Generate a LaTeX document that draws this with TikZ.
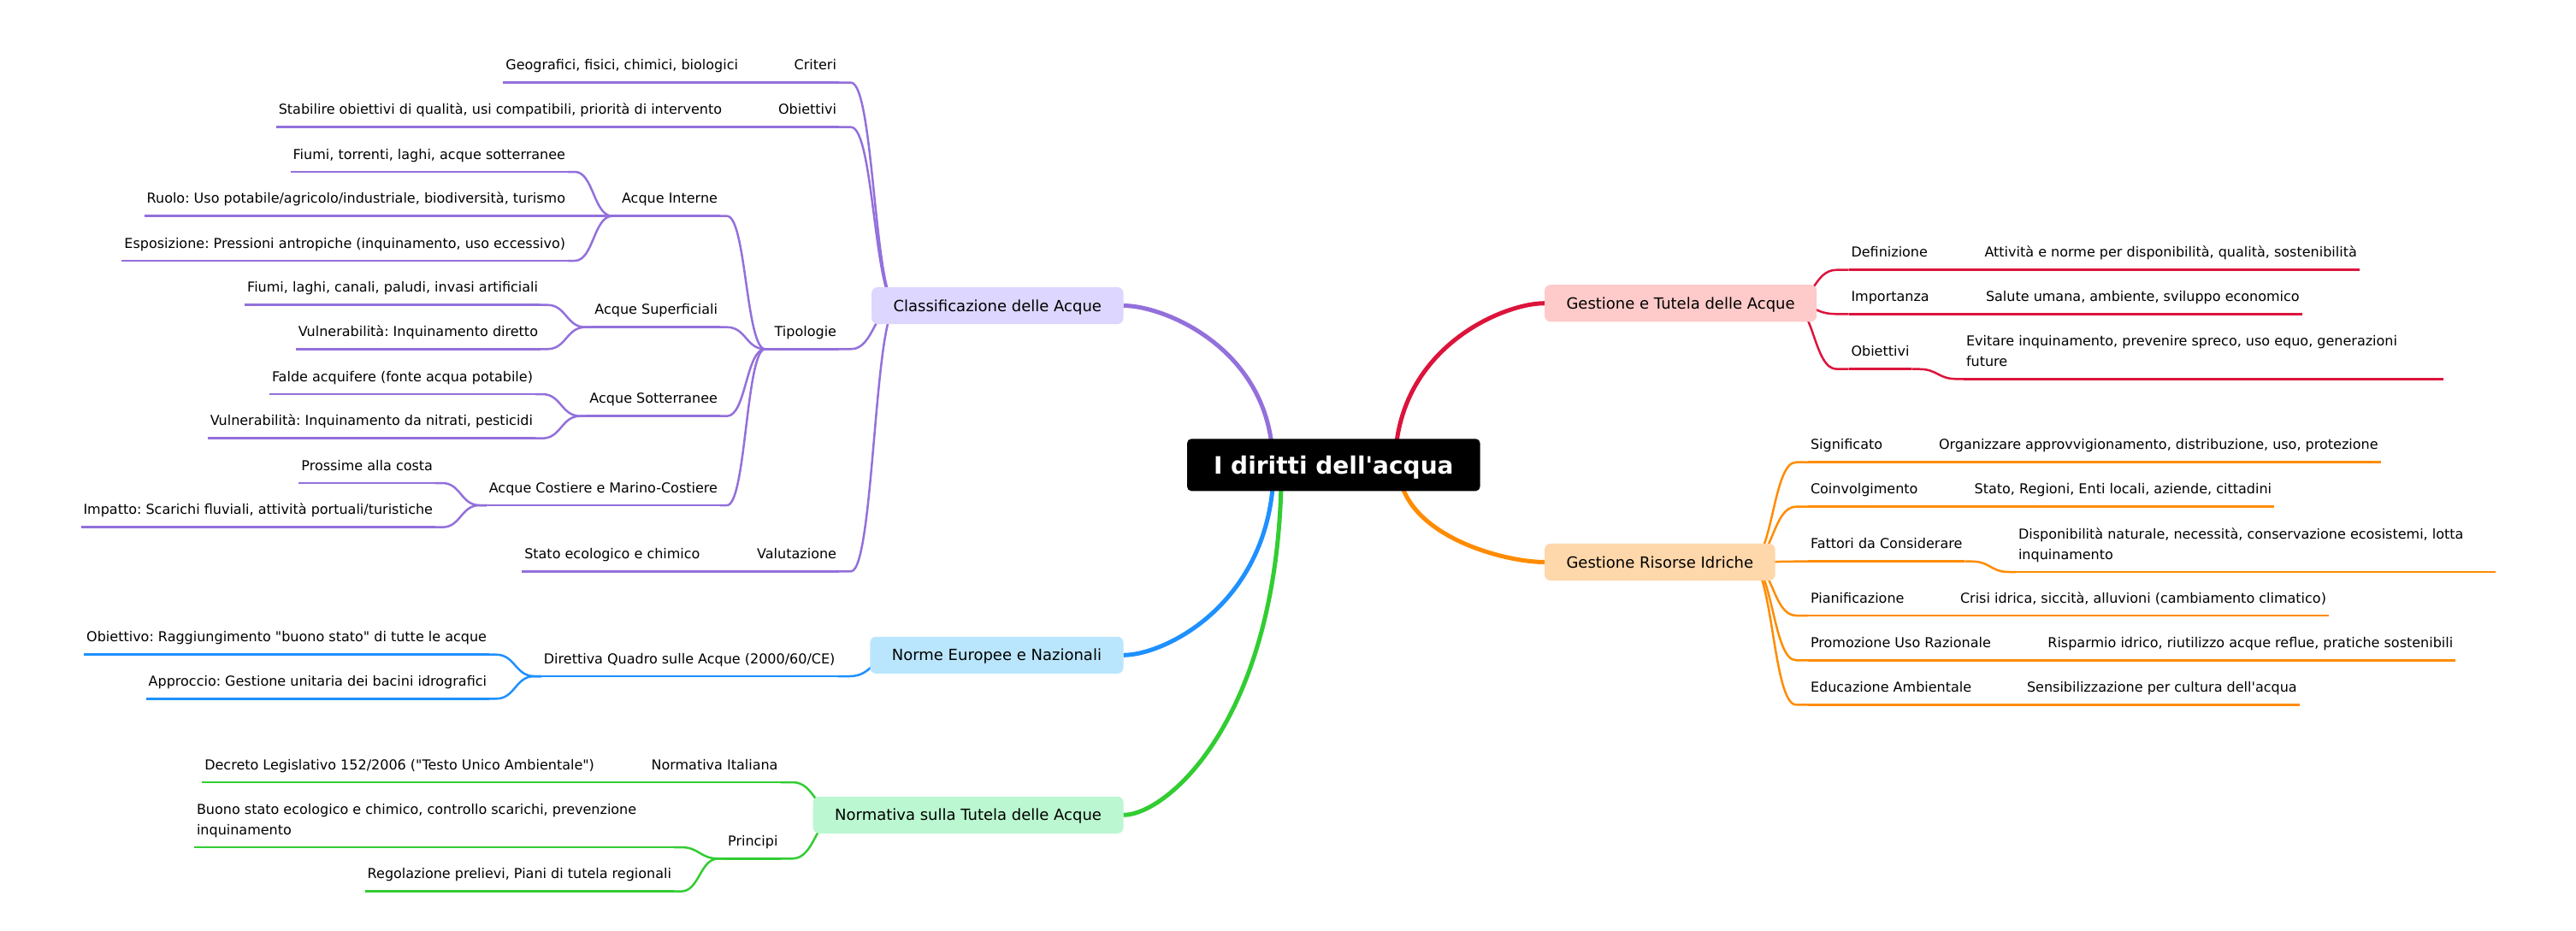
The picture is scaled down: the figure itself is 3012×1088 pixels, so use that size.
\documentclass[tikz,border=0pt]{standalone}
\usepackage{fontspec}
\newfontfamily\dv{DejaVu Sans}
\frenchspacing
\usetikzlibrary{calc}
\pgfdeclarelayer{bg}
\pgfsetlayers{bg,main}
\definecolor{cPur}{HTML}{9370DB}
\definecolor{cRed}{HTML}{DC143C}
\definecolor{cOra}{HTML}{FF8C00}
\definecolor{cBlu}{HTML}{1E90FF}
\definecolor{cGre}{HTML}{32CD32}
\definecolor{fPur}{HTML}{DDD6FE}
\definecolor{fRed}{HTML}{FECACA}
\definecolor{fOra}{HTML}{FED7AA}
\definecolor{fBlu}{HTML}{BAE6FD}
\definecolor{fGre}{HTML}{BBF7D0}
% root -> box: leaves the root vertically at x offset #2, arrives horizontally at the box
\newcommand\rtlink[3]{\draw[rlnk,#1] let \p1=($(root.center)+(#2pt,0pt)$), \p2=(#3) in (\p1) .. controls (\x1,{\y1+0.72*(\y2-\y1)}) and ({\x1+0.72*(\x2-\x1)},\y2) .. (\p2);}
% box (left side) -> child
\newcommand\bxL[3]{\draw[lnk,#1] let \p1=($(#2.west)+(30pt,0pt)$), \p2=([xshift=14pt]#3.south east) in (\p1) .. controls ({(\x1+\x2)/2},\y1) and ({(\x1+\x2)/2},\y2) .. (\p2) -- (#3.south east);}
% box (right side) -> child
\newcommand\bxR[3]{\draw[lnk,#1] let \p1=($(#2.east)+(-30pt,0pt)$), \p2=([xshift=-14pt]#3.south west) in (\p1) .. controls ({(\x1+\x2)/2},\y1) and ({(\x1+\x2)/2},\y2) .. (\p2) -- (#3.south west);}
% node -> child, left side
\newcommand\lkL[3]{\draw[lnk,#1] let \p1=([xshift=-8pt]#2.south west), \p2=([xshift=8pt]#3.south east) in (#2.south west) -- (\p1) .. controls ({(\x1+\x2)/2},\y1) and ({(\x1+\x2)/2},\y2) .. (\p2) -- (#3.south east);}
% node -> child, right side
\newcommand\lkR[3]{\draw[lnk,#1] let \p1=([xshift=8pt]#2.south east), \p2=([xshift=-8pt]#3.south west) in (#2.south east) -- (\p1) .. controls ({(\x1+\x2)/2},\y1) and ({(\x1+\x2)/2},\y2) .. (\p2) -- (#3.south west);}
% underline
\newcommand\ul[2]{\draw[lnk,#1] (#2.south west) -- (#2.south east);}
\newcommand\wraptext[2]{\parbox[b]{555pt}{\raggedright #1\\#2}}
\tikzset{
  lnk/.style={line width=2.5pt},
  rlnk/.style={line width=5pt},
  tx/.style={font=\dv\frenchspacing\fontsize{16}{23.5}\selectfont, inner xsep=3pt, inner ysep=15pt, outer sep=0pt, text depth=0pt, text=black},
  tl/.style={tx, anchor=south east},
  tr/.style={tx, anchor=south west},
  box/.style={font=\dv\fontsize{18}{22}\selectfont, rounded corners=7pt, inner xsep=25.5pt, inner ysep=15pt, text height=13.1pt, text depth=0pt, outer sep=0pt, text=black},
  rootbox/.style={fill=black, text=white, font=\dv\bfseries\fontsize{28}{34}\selectfont, rounded corners=5pt, inner xsep=31pt, inner ysep=20.3pt, text height=20.4pt, text depth=0pt, outer sep=0pt},
}
\begin{document}
\begin{tikzpicture}[x=1pt,y=-1pt]
\useasboundingbox (0,0) rectangle (3012,1088);
% root and first level
\node[rootbox] (root) at (1559.3,543.8) {I diritti dell'acqua};
\node[box, fill=fPur, anchor=east] (cls) at (1313.5,357.5) {Classificazione delle Acque};
\node[box, fill=fBlu, anchor=east] (nor) at (1313.5,766.3) {Norme Europee e Nazionali};
\node[box, fill=fGre, anchor=east] (ntu) at (1313.5,953.3) {Normativa sulla Tutela delle Acque};
\node[box, fill=fRed, anchor=west] (get) at (1806,354.7) {Gestione e Tutela delle Acque};
\node[box, fill=fOra, anchor=west] (gri) at (1806,657.5) {Gestione Risorse Idriche};
% Classificazione
\node[tl] (crit) at (981,96.7) {Criteri};
\node[tl] (obj) at (981,148.7) {Obiettivi};
\node[tl] (tip) at (981,408.3) {Tipologie};
\node[tl] (val) at (981,668.3) {Valutazione};
\node[tl] (geo) at (866,96.7) {Geografici, fisici, chimici, biologici};
\node[tl] (stab) at (847,148.7) {Stabilire obiettivi di qualità, usi compatibili, priorità di intervento};
\node[tl] (ai) at (842,252.7) {Acque Interne};
\node[tl] (asup) at (842,382.7) {Acque Superficiali};
\node[tl] (asot) at (842,486.7) {Acque Sotterranee};
\node[tl] (acos) at (842,591) {Acque Costiere e Marino-Costiere};
\node[tl] (stato) at (821.5,668.3) {Stato ecologico e chimico};
\node[tl] (ai1) at (664,201) {Fiumi, torrenti, laghi, acque sotterranee};
\node[tl] (ai2) at (664,252.7) {Ruolo: Uso potabile/agricolo/industriale, biodiversità, turismo};
\node[tl] (ai3) at (664,305) {Esposizione: Pressioni antropiche (inquinamento, uso eccessivo)};
\node[tl] (as1) at (632,356.7) {Fiumi, laghi, canali, paludi, invasi artificiali};
\node[tl] (as2) at (632,408.3) {Vulnerabilità: Inquinamento diretto};
\node[tl] (at1) at (626,461) {Falde acquifere (fonte acqua potabile)};
\node[tl] (at2) at (626,512.7) {Vulnerabilità: Inquinamento da nitrati, pesticidi};
\node[tl] (ac1) at (509,565) {Prossime alla costa};
\node[tl] (ac2) at (509,616.7) {Impatto: Scarichi fluviali, attività portuali/turistiche};
% Norme
\node[tl] (dir) at (979.5,791) {Direttiva Quadro sulle Acque (2000/60/CE)};
\node[tl] (dir1) at (572,765.7) {Obiettivo: Raggiungimento "buono stato" di tutte le acque};
\node[tl] (dir2) at (572,817.3) {Approccio: Gestione unitaria dei bacini idrografici};
% Normativa
\node[tl] (nit) at (912.5,915) {Normativa Italiana};
\node[tl] (dec) at (698,915) {Decreto Legislativo 152/2006 ("Testo Unico Ambientale")};
\node[tl] (prin) at (912.5,1004.3) {Principi};
\node[tl] (pr1) at (788,991) {\wraptext{Buono stato ecologico e chimico, controllo scarichi, prevenzione}{inquinamento}};
\node[tl] (pr2) at (788,1042.7) {Regolazione prelievi, Piani di tutela regionali};
% Gestione e Tutela
\node[tr] (def) at (2161.5,315.7) {Definizione};
\node[tr] (imp) at (2161.5,367.3) {Importanza};
\node[tr] (obt) at (2161.5,431.7) {Obiettivi};
\node[tr] (def1) at (2317.5,315.7) {Attività e norme per disponibilità, qualità, sostenibilità};
\node[tr] (imp1) at (2319,367.3) {Salute umana, ambiente, sviluppo economico};
\node[tr] (obt1) at (2296,443.3) {\wraptext{Evitare inquinamento, prevenire spreco, uso equo, generazioni}{future}};
% Gestione Risorse Idriche
\node[tr] (sig) at (2114,540.7) {Significato};
\node[tr] (sig1) at (2264,540.7) {Organizzare approvvigionamento, distribuzione, uso, protezione};
\node[tr] (coi) at (2114,592.7) {Coinvolgimento};
\node[tr] (coi1) at (2305.6,592.7) {Stato, Regioni, Enti locali, aziende, cittadini};
\node[tr] (fat) at (2114,656.7) {Fattori da Considerare};
\node[tr] (fat1) at (2357,669) {\wraptext{Disponibilità naturale, necessità, conservazione ecosistemi, lotta}{inquinamento}};
\node[tr] (pia) at (2114,720) {Pianificazione};
\node[tr] (pia1) at (2289,720) {Crisi idrica, siccità, alluvioni (cambiamento climatico)};
\node[tr] (pro) at (2114,772.3) {Promozione Uso Razionale};
\node[tr] (pro1) at (2391.4,772.3) {Risparmio idrico, riutilizzo acque reflue, pratiche sostenibili};
\node[tr] (edu) at (2114,824.3) {Educazione Ambientale};
\node[tr] (edu1) at (2367,824.3) {Sensibilizzazione per cultura dell'acqua};
\begin{pgfonlayer}{bg}
\fill[white] (0,0) rectangle (3012,1088);
% root links
\rtlink{cPur}{-71}{cls.east}
\rtlink{cBlu}{-70}{nor.east}
\rtlink{cGre}{-61}{ntu.east}
\rtlink{cRed}{72}{get.west}
\rtlink{cOra}{76}{gri.west}
% box links
\bxL{cPur}{cls}{crit}\bxL{cPur}{cls}{obj}\bxL{cPur}{cls}{tip}\bxL{cPur}{cls}{val}
\bxL{cBlu}{nor}{dir}
\bxL{cGre}{ntu}{nit}\bxL{cGre}{ntu}{prin}
\bxR{cRed}{get}{def}\bxR{cRed}{get}{imp}\bxR{cRed}{get}{obt}
\bxR{cOra}{gri}{sig}\bxR{cOra}{gri}{coi}\bxR{cOra}{gri}{fat}\bxR{cOra}{gri}{pia}\bxR{cOra}{gri}{pro}\bxR{cOra}{gri}{edu}
% deeper links
\lkL{cPur}{crit}{geo}\lkL{cPur}{obj}{stab}
\lkL{cPur}{tip}{ai}\lkL{cPur}{tip}{asup}\lkL{cPur}{tip}{asot}\lkL{cPur}{tip}{acos}
\lkL{cPur}{val}{stato}
\lkL{cPur}{ai}{ai1}\lkL{cPur}{ai}{ai2}\lkL{cPur}{ai}{ai3}
\lkL{cPur}{asup}{as1}\lkL{cPur}{asup}{as2}
\lkL{cPur}{asot}{at1}\lkL{cPur}{asot}{at2}
\lkL{cPur}{acos}{ac1}\lkL{cPur}{acos}{ac2}
\lkL{cBlu}{dir}{dir1}\lkL{cBlu}{dir}{dir2}
\lkL{cGre}{nit}{dec}\lkL{cGre}{prin}{pr1}\lkL{cGre}{prin}{pr2}
\lkR{cRed}{def}{def1}\lkR{cRed}{imp}{imp1}\lkR{cRed}{obt}{obt1}
\lkR{cOra}{sig}{sig1}\lkR{cOra}{coi}{coi1}\lkR{cOra}{fat}{fat1}
\lkR{cOra}{pia}{pia1}\lkR{cOra}{pro}{pro1}\lkR{cOra}{edu}{edu1}
% underlines
\foreach \n in {crit,obj,tip,val,geo,stab,ai,asup,asot,acos,stato,ai1,ai2,ai3,as1,as2,at1,at2,ac1,ac2}{\ul{cPur}{\n}}
\foreach \n in {dir,dir1,dir2}{\ul{cBlu}{\n}}
\foreach \n in {nit,dec,prin,pr1,pr2}{\ul{cGre}{\n}}
\foreach \n in {def,imp,obt,def1,imp1,obt1}{\ul{cRed}{\n}}
\foreach \n in {sig,sig1,coi,coi1,fat,fat1,pia,pia1,pro,pro1,edu,edu1}{\ul{cOra}{\n}}
\end{pgfonlayer}
\end{tikzpicture}
\end{document}
